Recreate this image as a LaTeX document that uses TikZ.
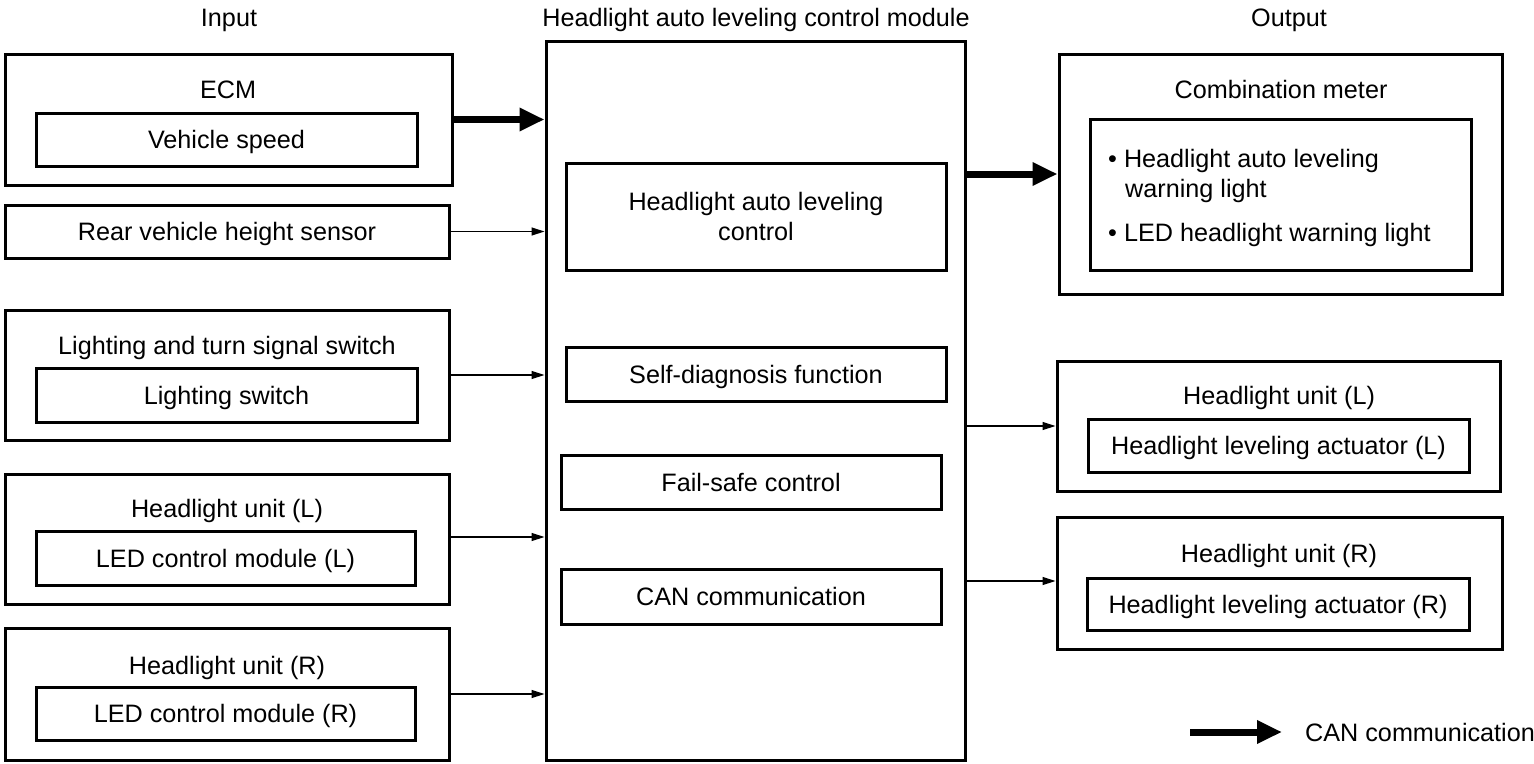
\documentclass[tikz,border=0pt]{standalone}
\usepackage{fontspec}
\setmainfont{Liberation Sans}
\usetikzlibrary{arrows.meta}
\begin{document}
\begin{tikzpicture}[x=1pt,y=-1pt,
  every node/.style={font=\fontsize{25.2}{30}\selectfont},
  box/.style={draw, line width=3pt, inner sep=0pt, text height=18pt, text depth=0pt},
  mbox/.style={draw, line width=3pt, inner sep=0pt},
  lbl/.style={inner sep=0pt, text height=18pt, text depth=0pt},
  can/.style={line width=7pt, -{Triangle[length=25pt,width=22pt]}},
  sig/.style={line width=1.3pt, -{Triangle[length=13pt,width=8pt]}}]
\useasboundingbox (0,0) rectangle (1534,763);
% headers
\node[lbl] (hin) at (229,17) {Input};
\node[lbl] (hmid) at (756,17) {Headlight auto leveling control module};
\node[lbl] (hout) at (1289,17) {Output};
% main module
\node[mbox, minimum width=419pt, minimum height=719pt] (main) at (755.5,400.5) {};
\node[mbox, minimum width=380pt, minimum height=107pt, align=center] (halc) at (756,216.5) {Headlight auto leveling\\control};
\node[box, minimum width=380pt, minimum height=54pt] (diag) at (756,374) {Self-diagnosis function};
\node[box, minimum width=380pt, minimum height=54pt] (fail) at (751,482) {Fail-safe control};
\node[box, minimum width=380pt, minimum height=55pt] (canc) at (751,596.5) {CAN communication};
% inputs
\node[box, minimum width=447pt, minimum height=131pt] (ecm) at (228.5,119.5) {};
\node[lbl] (ecmt) at (228,89) {ECM};
\node[box, minimum width=381pt, minimum height=53pt] (vs) at (226.5,139.5) {Vehicle speed};
\node[box, minimum width=444pt, minimum height=53pt] (rear) at (227,231.5) {Rear vehicle height sensor};
\node[box, minimum width=444pt, minimum height=130pt] (lts) at (227,375) {};
\node[lbl] (ltst) at (227,345) {Lighting and turn signal switch};
\node[box, minimum width=381pt, minimum height=54pt] (ls) at (226.5,395) {Lighting switch};
\node[box, minimum width=444pt, minimum height=130pt] (hul) at (227,539) {};
\node[lbl] (hult) at (227,508) {Headlight unit (L)};
\node[box, minimum width=379pt, minimum height=54pt] (ledl) at (225.5,558) {LED control module (L)};
\node[box, minimum width=444pt, minimum height=132pt] (hur) at (227,694) {};
\node[lbl] (hurt) at (227,665) {Headlight unit (R)};
\node[box, minimum width=379pt, minimum height=53pt] (ledr) at (225.5,713.5) {LED control module (R)};
% outputs
\node[box, minimum width=443pt, minimum height=240pt] (comb) at (1280.5,174) {};
\node[lbl] (combt) at (1281,89) {Combination meter};
\node[box, minimum width=381pt, minimum height=151pt] (warn) at (1280.5,194.5) {};
\node[lbl, anchor=west] (w1) at (1108,158) {• Headlight auto leveling};
\node[lbl, anchor=west] (w2) at (1125,188) {warning light};
\node[lbl, anchor=west] (w3) at (1108,232) {• LED headlight warning light};
\node[box, minimum width=443pt, minimum height=130pt] (ohl) at (1278.5,426) {};
\node[lbl] (ohlt) at (1279,395) {Headlight unit (L)};
\node[box, minimum width=381pt, minimum height=53pt] (actl) at (1278.5,445.5) {Headlight leveling actuator (L)};
\node[box, minimum width=445pt, minimum height=132pt] (ohr) at (1279.5,583) {};
\node[lbl] (ohrt) at (1279,553) {Headlight unit (R)};
\node[box, minimum width=382pt, minimum height=52pt] (actr) at (1278,604) {Headlight leveling actuator (R)};
% connectors
\draw[can] (ecm.east) -- (ecm.east -| main.west);
\draw[sig] (rear.east) -- (rear.east -| main.west);
\draw[sig] (lts.east) -- (lts.east -| main.west);
\draw[sig] ([yshift=2pt]hul.east) -- ([yshift=2pt]hul.east -| main.west);
\draw[sig] (hur.east) -- (hur.east -| main.west);
\draw[can] (main.east |- comb.west) -- (comb.west);
\draw[sig] (main.east |- ohl.west) -- (ohl.west);
\draw[sig] ([yshift=2pt]main.east |- ohr.west) -- ([yshift=2pt]ohr.west);
% legend
\coordinate (lga) at (1190,732);
\coordinate (lgb) at (1282,732);
\draw[can] (lga) -- (lgb);
\node[lbl, anchor=west] (lgt) at (1305,732) {CAN communication};
\end{tikzpicture}
\end{document}
